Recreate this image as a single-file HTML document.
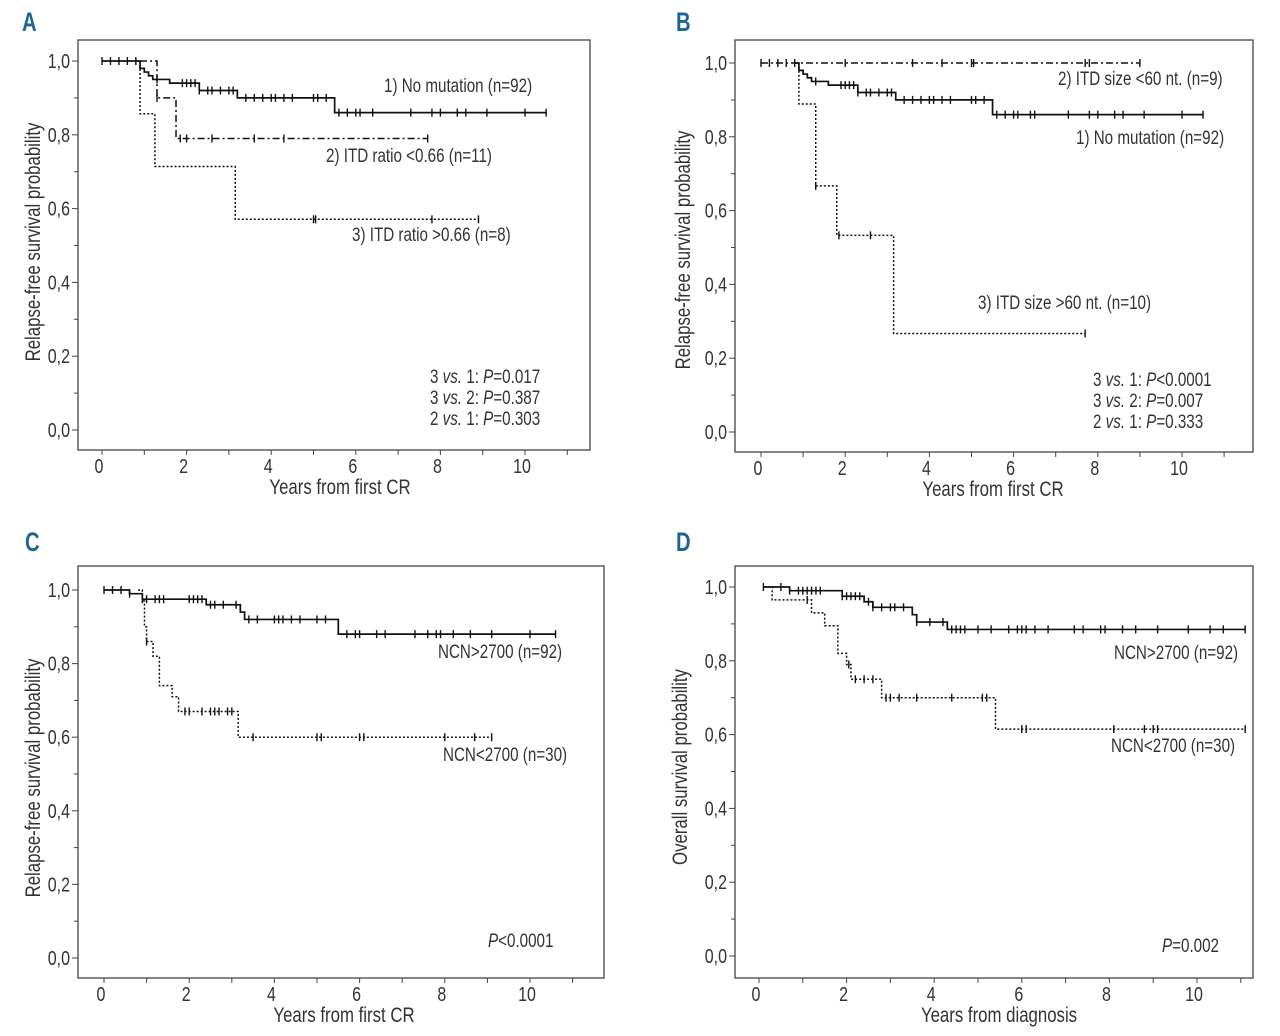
<!DOCTYPE html>
<html><head><meta charset="utf-8"><style>
body{margin:0;background:#fff;width:1280px;height:1036px;overflow:hidden}
svg{display:block}
text{font-family:"Liberation Sans Narrow","Liberation Sans",sans-serif;fill:#333}
.lbl{font-family:"Liberation Sans",sans-serif;font-weight:bold;fill:#1e6596}
</style></head><body>
<svg id="fig" width="1280" height="1036"></svg>
<script>
// ---- Panel A data ----
const aNoMutTimes=[0.9,1.0,1.1,1.2,1.6,2.3,3.2,5.5];
const aNoMutVals=[0.98,0.97,0.96,0.95,0.94,0.92,0.90,0.86];
const aNoMutCens=[0,0.2,0.4,0.6,0.8,1.3,1.9,2.0,2.1,2.2,2.3,2.5,2.6,2.8,3.0,3.1,3.4,3.6,3.8,4.0,4.1,4.3,4.5,5.0,5.1,5.3,5.6,5.8,6.0,6.1,6.4,7.3,7.8,8.0,8.4,8.6,9.1,10.0,10.5];
const aNoMutEnd=10.5;
const aLowTimes=[1.3,1.75];
const aLowVals=[0.9,0.79];
const aLowCens=[1.3,1.85,2.0,2.6,3.6,4.3,7.7];
const aLowEnd=7.7;
const aHighTimes=[0.9,1.25,3.15];
const aHighVals=[0.857,0.714,0.571];
const aHighCens=[5.0,5.05,7.8,8.9];
const aHighEnd=8.9;
// ---- Panel B data ----
const bSmallTimes=[];
const bSmallVals=[];
const bSmallCens=[0,0.2,0.4,0.6,0.8,2.0,3.6,4.3,5.0,5.05,7.7,7.8,9.0];
const bSmallEnd=9.0;
const bNoMutTimes=[0.9,1.0,1.1,1.2,1.6,2.3,3.2,5.5];
const bNoMutVals=[0.98,0.97,0.96,0.95,0.94,0.92,0.90,0.86];
const bNoMutCens=[1.3,1.9,2.0,2.1,2.2,2.3,2.5,2.6,2.8,3.0,3.1,3.4,3.6,3.8,4.0,4.1,4.3,4.5,5.0,5.1,5.3,5.6,5.8,6.0,6.1,6.4,6.5,7.3,7.8,8.0,8.4,8.6,9.1,10.0,10.5];
const bNoMutEnd=10.5;
const bLargeTimes=[0.9,1.3,1.8,3.15];
const bLargeVals=[0.889,0.667,0.533,0.267];
const bLargeCens=[1.3,1.85,2.6,7.7];
const bLargeEnd=7.7;
// ---- Panel C data ----
const cHighTimes=[0.6,0.9,2.4,3.2,3.3,5.5];
const cHighVals=[0.99,0.975,0.96,0.94,0.92,0.88];
const cHighCens=[0,0.2,0.4,0.6,0.9,1.0,1.2,1.3,1.4,2.0,2.1,2.2,2.3,2.5,2.6,2.8,3.1,3.4,3.6,4.0,4.1,4.2,4.4,4.6,5.0,5.2,5.7,5.9,6.0,6.4,6.6,7.3,7.6,7.8,7.9,8.2,8.6,9.1,10.0,10.6];
const cHighEnd=10.6;
const cLowTimes=[0.9,0.95,1.0,1.15,1.3,1.6,1.75];
const cLowVals=[0.97,0.9,0.86,0.82,0.74,0.71,0.67];
const cLowCens=[1.0,1.9,2.0,2.3,2.5,2.6,2.7,2.9,3.0,3.5,5.0,5.1,6.0,6.1,8.0,8.7,9.1];
const cLowEnd=9.1;
const cLow2Times=[3.15];
const cLow2Vals=[0.60];
// ---- Panel D data ----
const dHighTimes=[0.7,1.9,2.4,2.6,3.5,3.6,4.3];
const dHighVals=[0.99,0.975,0.96,0.945,0.925,0.905,0.885];
const dHighCens=[0.1,0.5,0.7,0.9,1.0,1.1,1.2,1.3,1.4,1.9,2.0,2.1,2.2,2.3,2.5,2.6,2.8,3.0,3.1,3.3,3.6,3.9,4.2,4.4,4.5,4.6,4.7,5.0,5.3,5.7,5.9,6.0,6.1,6.3,6.6,7.2,7.4,7.8,7.9,8.3,8.6,9.1,9.8,10.3,10.6,11.1];
const dHighEnd=11.1;
const dLowTimes=[0.3,1.2,1.5,1.8,2.0,2.1,2.8,5.4];
const dLowVals=[0.965,0.93,0.895,0.82,0.79,0.75,0.70,0.615];
const dLowCens=[1.1,2.05,2.2,2.4,2.6,2.9,3.0,3.2,3.6,4.4,5.1,5.2,6.0,6.1,8.1,8.8,9.0,9.1,11.1];
const dLowEnd=11.1;
const yTickLabels=["0,0","0,2","0,4","0,6","0,8","1,0"];
const yTickValues=[0,0.2,0.4,0.6,0.8,1.0];
const xTickValues=[0,2,4,6,8,10];

const NS="http://www.w3.org/2000/svg";
const svg=document.getElementById('fig');
const SQ=0.8;
function mk(tag,attrs,parent){const e=document.createElementNS(NS,tag);for(const k in attrs)e.setAttribute(k,attrs[k]);(parent||svg).appendChild(e);return e;}
function txt(x,y,size,anchor,html,parent,rot){
  const tr=`translate(${x},${y})`+(rot?' rotate(-90)':'')+` scale(${SQ},1)`;
  const e=mk('text',{x:0,y:0,'font-size':size,'text-anchor':anchor,transform:tr},parent);
  e.innerHTML=html;return e;
}

function panel(p){
  const g=mk('g',{});
  
  
  const sx=t=>p.x0+t*p.kx, sy=v=>p.y0-v*p.ky;
  const t=mk('text',{x:p.lx,y:p.ly,'font-size':27,class:'lbl',transform:`translate(${p.lx},0) scale(0.75,1) translate(${-p.lx},0)`},g);t.textContent=p.id;
  
  
  const fr=mk('rect',{x:p.L,y:p.T,width:p.R-p.L,height:p.B-p.T,fill:'none',stroke:'#444','stroke-width':1.3},g);
  
  
  for(let i=0;i<=10;i++){const v=i/10;mk('line',{x1:p.L-(i%2?4:6),x2:p.L,y1:sy(v),y2:sy(v),stroke:'#444'},g);}
  yTickValues.forEach((v,i)=>{const e=txt(p.L-8,sy(v)+7,20,'end',yTickLabels[i],g);
    
    });
  for(let i=0;i<=p.xmax;i++){mk('line',{x1:sx(i),x2:sx(i),y1:p.B,y2:p.B+5,stroke:'#444'},g);}
  xTickValues.forEach(v=>{const e=txt(sx(v)-3,p.B+23,20,'middle',String(v),g);
    
    });
  const xt=txt(p.xtx,p.B+44,21,'middle',p.xtitle,g);
  
  
  const yt=txt(p.ytx,p.yty,21,'middle',p.ytitle,g,true);
  
  
  p.curves.forEach(c=>{
    let v=c.start, d=`M${sx(c.t0)},${sy(v)}`;
    c.times.forEach((tt,i)=>{d+=` H${sx(tt)} V${sy(c.vals[i])}`;v=c.vals[i];});
    d+=` H${sx(c.end)}`;
    const path=mk('path',{d,fill:'none',stroke:'#111','stroke-width':c.dash?1.5:1.7,'stroke-dasharray':c.dash},g);
    
    
    c.cens.forEach(ct=>{
      let val=c.start;c.times.forEach((tt,i)=>{if(tt<=ct)val=c.vals[i];});
      const m=mk('line',{x1:sx(ct),x2:sx(ct),y1:sy(val)-4,y2:sy(val)+4,stroke:'#111','stroke-width':1.4},g);
      
      
    });
  });
  p.notes.forEach(n=>{const e=txt(n[0],n[1],19,'start',n[2],g);
    
    });
}
const SOL='', DD='7,3,2,3', DOT='2,2';
const I=s=>'<tspan font-style="italic">'+s+'</tspan>';
panel({id:'A',lx:22,ly:31,L:78,R:590,T:40,B:450,x0:102,kx:42.3,y0:430,ky:369,xmax:11,xtx:340,ytx:40,yty:242,
 xtitle:'Years from first CR',ytitle:'Relapse-free survival probability',
 curves:[
  {name:'curve-no-mutation',start:1,t0:0,times:aNoMutTimes,vals:aNoMutVals,cens:aNoMutCens,end:aNoMutEnd,dash:SOL},
  {name:'curve-itd-ratio-low',start:1,t0:0.9,times:aLowTimes,vals:aLowVals,cens:aLowCens,end:aLowEnd,dash:DD},
  {name:'curve-itd-ratio-high',start:1,t0:0.9,times:aHighTimes,vals:aHighVals,cens:aHighCens,end:aHighEnd,dash:DOT}],
 notes:[[384,92,'1) No mutation (n=92)'],[326,162,'2) ITD ratio &lt;0.66 (n=11)'],[352,241,'3) ITD ratio &gt;0.66 (n=8)'],
  [430,383,'3 '+I('vs.')+' 1: '+I('P')+'=0.017'],
  [430,404,'3 '+I('vs.')+' 2: '+I('P')+'=0.387'],
  [430,425,'2 '+I('vs.')+' 1: '+I('P')+'=0.303']]});
panel({id:'B',lx:676,ly:31,L:735,R:1253,T:40,B:452,x0:761,kx:42.1,y0:432,ky:369,xmax:11,xtx:993,ytx:690,yty:250,
 xtitle:'Years from first CR',ytitle:'Relapse-free survival probability',
 curves:[
  {name:'curve-itd-size-small',start:1,t0:0,times:bSmallTimes,vals:bSmallVals,cens:bSmallCens,end:bSmallEnd,dash:DD},
  {name:'curve-no-mutation',start:1,t0:0.8,times:bNoMutTimes,vals:bNoMutVals,cens:bNoMutCens,end:bNoMutEnd,dash:SOL},
  {name:'curve-itd-size-large',start:1,t0:0.8,times:bLargeTimes,vals:bLargeVals,cens:bLargeCens,end:bLargeEnd,dash:DOT}],
 notes:[[1058,85,'2) ITD size &lt;60 nt. (n=9)'],[1076,144,'1) No mutation (n=92)'],[978,309,'3) ITD size &gt;60 nt. (n=10)'],
  [1093,386,'3 '+I('vs.')+' 1: '+I('P')+'&lt;0.0001'],
  [1093,407,'3 '+I('vs.')+' 2: '+I('P')+'=0.007'],
  [1093,428,'2 '+I('vs.')+' 1: '+I('P')+'=0.333']]});
panel({id:'C',lx:25,ly:551,L:78,R:604,T:566,B:978,x0:104,kx:42.6,y0:958,ky:368,xmax:11,xtx:344,ytx:40,yty:778,
 xtitle:'Years from first CR',ytitle:'Relapse-free survival probability',
 curves:[
  {name:'curve-ncn-high',start:1,t0:0,times:cHighTimes,vals:cHighVals,cens:cHighCens,end:cHighEnd,dash:SOL},
  {name:'curve-ncn-low',start:1,t0:0.8,times:cLowTimes.concat(cLow2Times),vals:cLowVals.concat(cLow2Vals),cens:cLowCens,end:cLowEnd,dash:DOT}],
 notes:[[438,658,'NCN&gt;2700 (n=92)'],[443,761,'NCN&lt;2700 (n=30)'],[488,947,I('P')+'&lt;0.0001']]});
panel({id:'D',lx:676,ly:551,L:735,R:1253,T:566,B:978,x0:759,kx:43.8,y0:956,ky:369,xmax:11,xtx:999,ytx:687,yty:767,
 xtitle:'Years from diagnosis',ytitle:'Overall survival probability',
 curves:[
  {name:'curve-ncn-high',start:1,t0:0.1,times:dHighTimes,vals:dHighVals,cens:dHighCens,end:dHighEnd,dash:SOL},
  {name:'curve-ncn-low',start:1,t0:0.1,times:dLowTimes,vals:dLowVals,cens:dLowCens,end:dLowEnd,dash:DOT}],
 notes:[[1114,659,'NCN&gt;2700 (n=92)'],[1111,752,'NCN&lt;2700 (n=30)'],[1162,952,I('P')+'=0.002']]});
</script>
</body></html>
